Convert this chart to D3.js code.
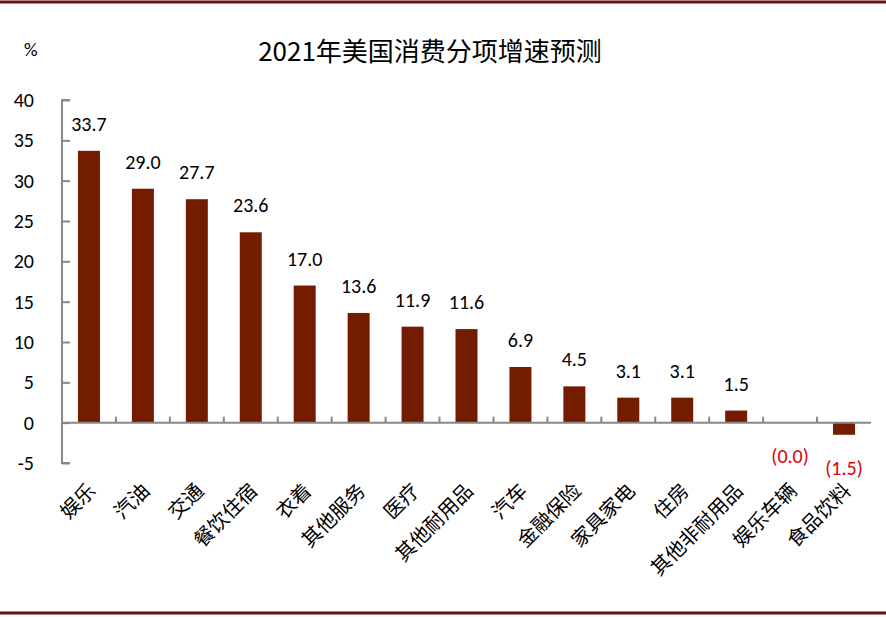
<!DOCTYPE html>
<html><head><meta charset="utf-8">
<script src="https://cdn.jsdelivr.net/npm/d3@7"></script>
<style>body{margin:0;background:#fff}</style>
</head><body>
<svg id="c" width="886" height="617"></svg>
<script>
// data
var categories = ["娱乐","汽油","交通","餐饮住宿","衣着","其他服务","医疗","其他耐用品","汽车","金融保险","家具家电","住房","其他非耐用品","娱乐车辆","食品饮料"];
var values = [33.7, 29.0, 27.7, 23.6, 17.0, 13.6, 11.9, 11.6, 6.9, 4.5, 3.1, 3.1, 1.5, -0.02, -1.5];
var yTicks = [-5, 0, 5, 10, 15, 20, 25, 30, 35, 40];

var svg = d3.select("#c");
var font = "Calibri, Carlito, 'Liberation Sans', sans-serif";

svg.append("line").attr("x1", 0).attr("x2", 886).attr("y1", 2).attr("y2", 2)
    .attr("stroke", "#6a0f12").attr("stroke-width", 3);
svg.append("line").attr("x1", 0).attr("x2", 886).attr("y1", 613).attr("y2", 613)
    .attr("stroke", "#6a0f12").attr("stroke-width", 3);

var x = d3.scaleBand().domain(categories).range([62, 871]);
var y = d3.scaleLinear().domain([-5, 40]).range([463, 100]);

svg.append("text").attr("x", 430).attr("y", 61).attr("text-anchor", "middle")
    .attr("font-family", "'Noto Sans CJK SC', sans-serif").attr("font-size", 26)
    .text("2021年美国消费分项增速预测");
svg.append("text").attr("x", 24).attr("y", 56)
    .attr("font-family", font).attr("font-size", 19).text("%");

// y axis
var ya = svg.append("g").attr("transform", "translate(62,0)")
    .call(d3.axisRight(y).tickValues(yTicks).tickSize(8).tickFormat(""));
ya.selectAll("line,path").attr("stroke", "#888").attr("stroke-width", 2);
ya.select("path").attr("d", "M8," + y(40) + "H0V" + y(-5) + "H8");
svg.selectAll(".yl").data(yTicks).enter().append("text")
    .attr("x", 34).attr("y", function(d){ return y(d) + 7; })
    .attr("text-anchor", "end").attr("font-family", font).attr("font-size", 20)
    .text(function(d){ return d; });

// bars
svg.selectAll(".bar").data(values).enter().append("rect")
    .attr("x", function(d, i){ return x(categories[i]) + x.bandwidth()/2 - 11; })
    .attr("width", 22)
    .attr("y", function(d){ return y(Math.max(0, d)); })
    .attr("height", function(d){ return Math.abs(y(d) - y(0)); })
    .attr("fill", "#741c00");

// x axis
var xa = svg.append("g");
xa.append("line").attr("x1", 62).attr("x2", 871).attr("y1", y(0)).attr("y2", y(0))
    .attr("stroke", "#888").attr("stroke-width", 2);
xa.selectAll(".t").data(categories.slice(1)).enter().append("line")
    .attr("x1", function(d){ return x(d); }).attr("x2", function(d){ return x(d); })
    .attr("y1", y(0)).attr("y2", y(0) - 6)
    .attr("stroke", "#888").attr("stroke-width", 2);

// value labels
svg.selectAll(".vl").data(values).enter().append("text")
    .attr("x", function(d, i){ return x(categories[i]) + x.bandwidth()/2; })
    .attr("y", function(d){ return d < 0 ? y(d) + 40 : y(d) - 20; })
    .attr("text-anchor", "middle").attr("font-family", font).attr("font-size", 20)
    .attr("fill", function(d){ return d < 0 ? "#e00000" : "#000"; })
    .text(function(d){ return d < 0 ? "(" + Math.abs(d).toFixed(1) + ")" : d.toFixed(1); });

// category labels
svg.selectAll(".cl").data(categories).enter().append("text")
    .attr("transform", function(d){
        return "translate(" + (x(d) + x.bandwidth()/2 + 8) + "," + 492 + ") rotate(-45)";
    })
    .attr("text-anchor", "end").attr("font-family", "'Noto Sans CJK SC', sans-serif")
    .attr("font-size", 20).text(function(d){ return d; });
</script>
</body></html>
